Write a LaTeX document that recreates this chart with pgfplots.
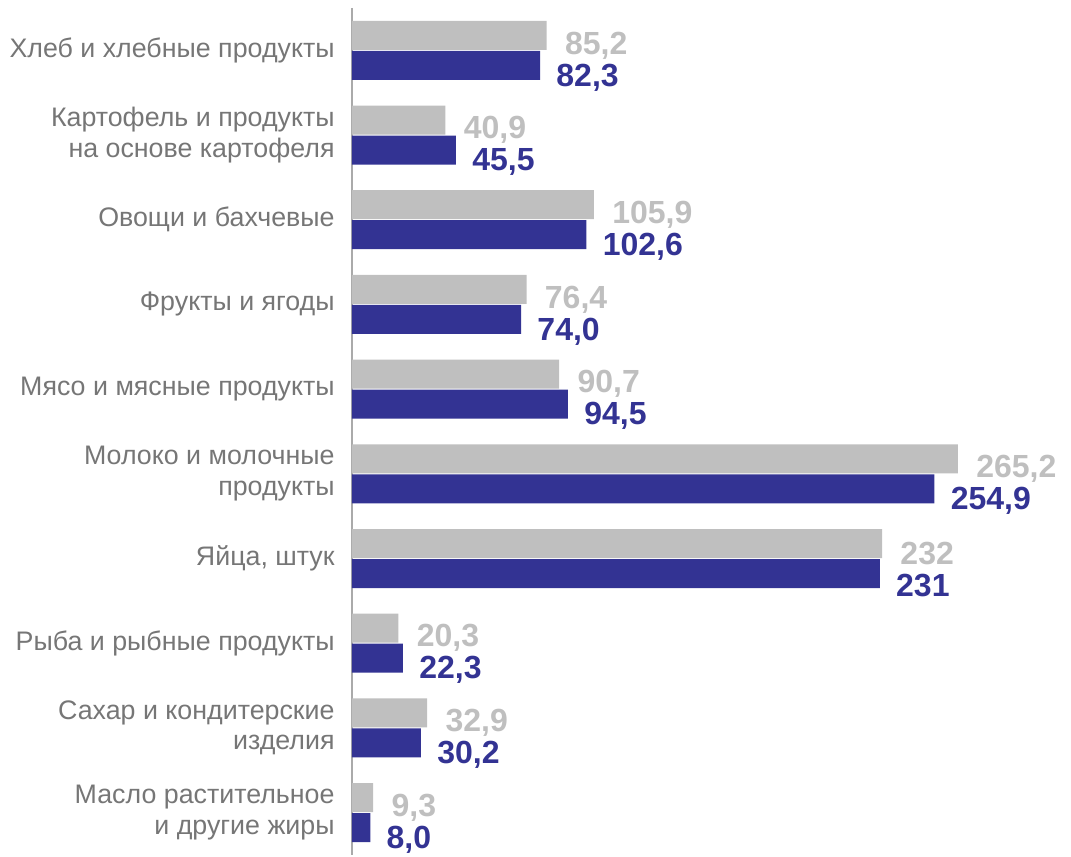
\documentclass[border=0pt]{standalone}
\usepackage{fontspec}
\setmainfont{Liberation Sans}
\usepackage{pgfplots}
\usepackage{pgfplotstable}
\pgfplotsset{compat=1.18}
\definecolor{bargray}{RGB}{191,191,191}
\definecolor{barblue}{RGB}{51,51,147}
\definecolor{labelgray}{RGB}{118,118,118}
\definecolor{axisgray}{RGB}{170,170,170}

% y  prev  prevlab  cur  curlab
\pgfplotstableread{
y prev prevlab cur curlab
0 85.2  85,2  82.3  82,3
1 40.9  40,9  45.5  45,5
2 105.9 105,9 102.6 102,6
3 76.4  76,4  74.0  74,0
4 90.7  90,7  94.5  94,5
5 265.2 265,2 254.9 254,9
6 232   232   231   231
7 20.3  20,3  22.3  22,3
8 32.9  32,9  30.2  30,2
9 9.3   9,3   8.0   8,0
}\foodtable

\begin{document}
\begin{tikzpicture}
\begin{axis}[scale only axis,width=359.5pt,height=423.5pt,
  xbar,bar width=14.5pt,
  xmin=0,xmax=314.7,ymin=-0.5,ymax=9.5,y dir=reverse,
  axis x line=none,axis y line*=left,
  y axis line style={draw=axisgray,line width=1pt,-},
  ytick={0,...,9},major tick length=0pt,
  yticklabels={Хлеб и хлебные продукты,{Картофель и продукты\\на основе картофеля},
    Овощи и бахчевые,Фрукты и ягоды,Мясо и мясные продукты,
    {Молоко и молочные\\продукты},{Яйца, штук},Рыба и рыбные продукты,
    {Сахар и кондитерские\\изделия},{Масло растительное\\и другие жиры}},
  yticklabel style={align=right,inner sep=0pt,xshift=-8.5pt,text=labelgray,
    font=\fontsize{13.4}{15.3}\selectfont},
  point meta=explicit symbolic,
  nodes near coords,
  clip=false]
\addplot[fill=bargray,draw=none,bar shift=7.5pt,
  every node near coord/.style={anchor=west,inner sep=0pt,xshift=9pt,yshift=2.5pt,
    text=bargray,font=\bfseries\fontsize{16}{18}\selectfont}]
  table[x=prev,y=y,meta=prevlab]{\foodtable};
\addplot[fill=barblue,draw=none,bar shift=-7.5pt,
  every node near coord/.style={anchor=west,inner sep=0pt,xshift=8pt,yshift=-13.5pt,
    text=barblue,font=\bfseries\fontsize{16}{18}\selectfont}]
  table[x=cur,y=y,meta=curlab]{\foodtable};
\end{axis}
\pgfresetboundingbox
\path (current axis.south west) ++(-176pt,-1pt) rectangle ([yshift=4pt]current axis.north east);
\end{tikzpicture}
\end{document}
